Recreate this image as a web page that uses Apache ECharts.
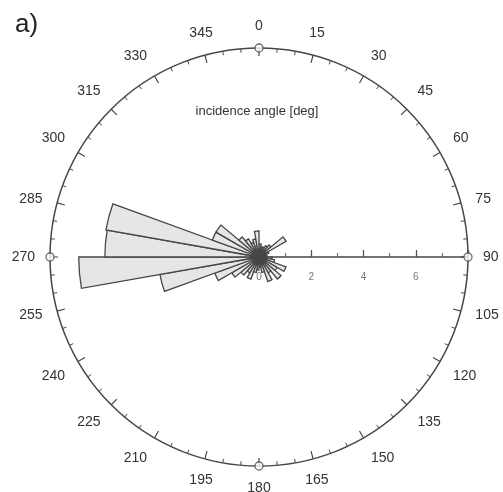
<!DOCTYPE html>
<html>
<head>
<meta charset="utf-8">
<script src="https://cdn.jsdelivr.net/npm/echarts@6/dist/echarts.min.js"></script>
<style>
  html, body { margin: 0; padding: 0; background: #fff; }
  #chart { width: 503px; height: 492px; }
</style>
</head>
<body>
<div id="chart"></div>
<script>
// 10 deg bins, start angle of each bin (compass, clockwise from north)
var binStarts = ['0', '10', '20', '30', '40', '50', '60', '70', '80', '90', '100', '110',
  '120', '130', '140', '150', '160', '170', '180', '190', '200', '210', '220', '230',
  '240', '250', '260', '270', '280', '290', '300', '310', '320', '330', '340', '350'];
// radial length of each wedge
var binValues = [0.5, 0.4, 0.4, 0.5, 0.6, 1.2, 0.4, 0.3, 0.3, 0.5, 0.6, 1.1,
  0.8, 1.1, 0.7, 1.0, 0.6, 0.4, 0.5, 0.6, 0.9, 0.7, 0.9, 1.2,
  1.8, 3.85, 6.9, 5.9, 5.95, 1.9, 1.9, 1.0, 0.8, 0.6, 0.7, 1.0];
var radiusMax = 8;
var markerAngles = [0, 90, 180, 270];

var center = [259, 257];
var radius = 209;
var lineColor = '#474747';

var chart = echarts.init(document.getElementById('chart'));

var option = {
  animation: false,
  backgroundColor: '#fff',
  polar: [
    { center: center, radius: radius },
    { center: center, radius: radius },
    { center: center, radius: radius }
  ],
  angleAxis: [
    {
      // wedges
      polarIndex: 0,
      type: 'category',
      data: binStarts,
      startAngle: 90,
      clockwise: true,
      axisLine: { show: false },
      axisTick: { show: false },
      axisLabel: { show: false },
      splitLine: { show: false }
    },
    {
      // outer compass ring
      polarIndex: 1,
      type: 'value',
      min: 0,
      max: 360,
      interval: 15,
      startAngle: 90,
      clockwise: true,
      axisLine: { lineStyle: { color: lineColor, width: 1.5 } },
      axisTick: { show: true, inside: true, length: 8, lineStyle: { color: lineColor, width: 1.2 } },
      minorTick: { show: true, splitNumber: 3, length: 4, lineStyle: { color: lineColor, width: 1 } },
      axisLabel: { margin: 15, color: '#333', fontSize: 14, fontFamily: 'Liberation Sans' },
      splitLine: { show: false }
    },
    {
      // only used to point the radial scale to the east
      polarIndex: 2,
      type: 'value',
      min: 0,
      max: 360,
      startAngle: 0,
      clockwise: true,
      show: false
    }
  ],
  radiusAxis: [
    { polarIndex: 0, min: 0, max: radiusMax, show: false },
    { polarIndex: 1, min: 0, max: radiusMax, show: false },
    {
      polarIndex: 2,
      min: 0,
      max: radiusMax,
      interval: 2,
      axisLine: { lineStyle: { color: lineColor, width: 1.5 } },
      axisTick: { show: true, inside: true, length: 7, lineStyle: { color: '#555', width: 1.3 } },
      minorTick: { show: true, splitNumber: 2, length: 4, lineStyle: { color: '#666', width: 1.1 } },
      axisLabel: {
        margin: -25,
        color: '#777',
        fontSize: 10,
        fontFamily: 'Liberation Sans',
        formatter: function (v) { return v >= radiusMax ? '' : v; }
      },
      splitLine: { show: false }
    }
  ],
  graphic: [
    {
      type: 'text',
      left: 15,
      top: 12,
      style: { text: 'a)', fontSize: 26, fontFamily: 'Liberation Sans', fill: '#222' }
    },
    {
      type: 'text',
      x: 257,
      y: 111,
      style: {
        text: 'incidence angle [deg]',
        fontSize: 13,
        fontFamily: 'Liberation Sans',
        fill: '#333',
        align: 'center',
        verticalAlign: 'middle'
      }
    }
  ],
  series: [
    {
      type: 'bar',
      coordinateSystem: 'polar',
      polarIndex: 0,
      data: binValues,
      barCategoryGap: '0%',
      silent: true,
      itemStyle: { color: '#e6e6e6', borderColor: '#454545', borderWidth: 1.3 }
    },
    {
      type: 'scatter',
      coordinateSystem: 'polar',
      polarIndex: 1,
      symbol: 'circle',
      symbolSize: 8,
      silent: true,
      z: 5,
      itemStyle: { color: '#fff', borderColor: lineColor, borderWidth: 1.3 },
      data: markerAngles.map(function (a) { return [radiusMax, a]; })
    }
  ]
};

chart.setOption(option);
</script>
</body>
</html>
